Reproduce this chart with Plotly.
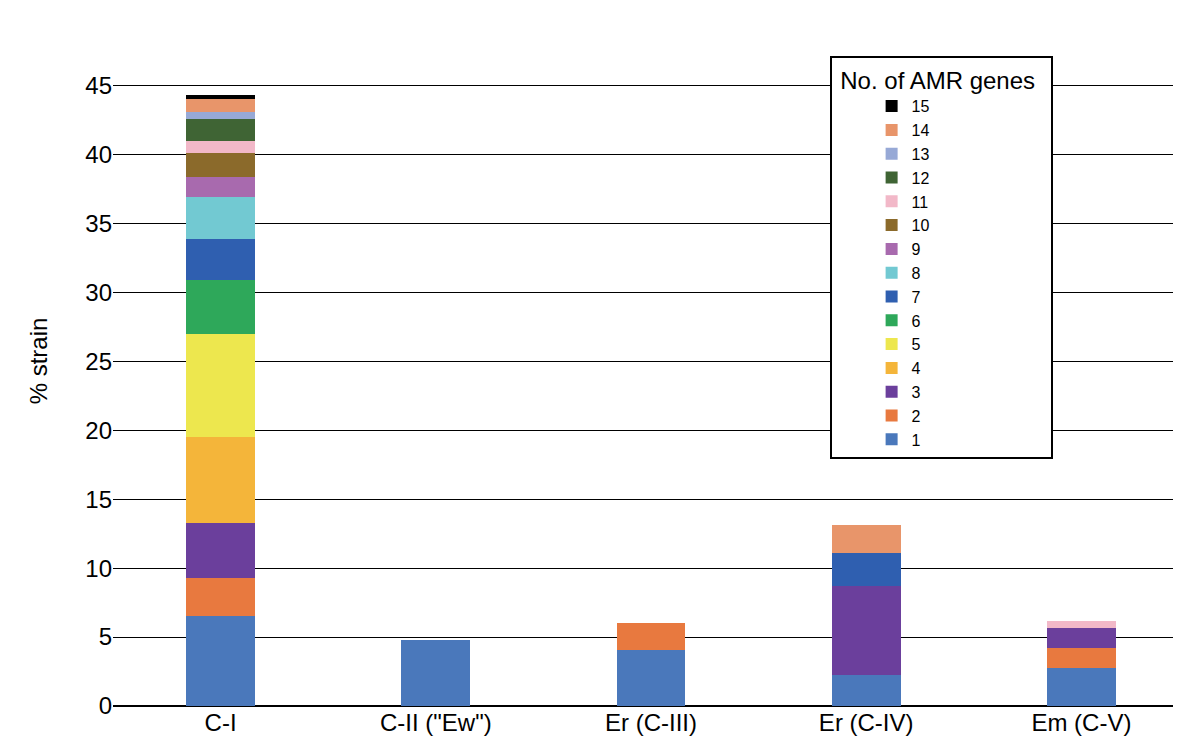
import plotly.graph_objects as go

categories = ["C-I", "C-II (\"Ew\")", "Er (C-III)", "Er (C-IV)", "Em (C-V)"]
gene_counts = [str(i) for i in range(1, 16)]

# % strain per category for each number of AMR genes
values = {
    "1": [6.5, 4.8, 4.05, 2.25, 2.75],
    "2": [2.8, 0, 2.0, 0, 1.45],
    "3": [4.0, 0, 0, 6.45, 1.45],
    "4": [6.2, 0, 0, 0, 0],
    "5": [7.5, 0, 0, 0, 0],
    "6": [3.9, 0, 0, 0, 0],
    "7": [3.0, 0, 0, 2.4, 0],
    "8": [3.0, 0, 0, 0, 0],
    "9": [1.5, 0, 0, 0, 0],
    "10": [1.7, 0, 0, 0, 0],
    "11": [0.9, 0, 0, 0, 0.55],
    "12": [1.6, 0, 0, 0, 0],
    "13": [0.5, 0, 0, 0, 0],
    "14": [0.9, 0, 0, 2.0, 0],
    "15": [0.3, 0, 0, 0, 0],
}

colors = ["#4a78bb", "#e8793f", "#6b3f9c", "#f4b53a", "#ede74e", "#2ea85a",
          "#2f5fb0", "#72c9d2", "#a86aae", "#8b6a2b", "#f2b8c8", "#3f6434",
          "#97a9d6", "#e8956a", "#000000"]

fig = go.Figure()
for g, c in zip(gene_counts, colors):
    fig.add_trace(go.Bar(x=categories, y=values[g], name=g, marker_color=c,
                         marker_line_width=0, width=0.32))

fig.update_layout(
    barmode="stack",
    width=1181, height=737,
    plot_bgcolor="white", paper_bgcolor="white",
    margin=dict(l=105, r=0, t=8, b=39),
    font=dict(family="Liberation Sans, Arial", size=22, color="black"),
    legend=dict(
        title=dict(text=" No. of AMR genes  ", font=dict(size=24)),
        traceorder="reversed",
        x=0.666, y=0.942, xanchor="left", yanchor="top",
        bgcolor="white", bordercolor="black", borderwidth=2,
        font=dict(size=16), itemwidth=30, tracegroupgap=0,
        indentation=40,
    ),
)
fig.update_yaxes(range=[0, 50.05], tickvals=list(range(0, 51, 5)),
                 showgrid=True, gridcolor="black",
                 gridwidth=1.2, zeroline=True, zerolinecolor="black",
                 title_text="% strain", title_font=dict(size=24),
                 tickfont=dict(size=24), title_standoff=30,
                 ticks="", showline=False)
fig.update_xaxes(showline=False, ticks="", tickfont=dict(size=24))

fig.write_html("out.html")
